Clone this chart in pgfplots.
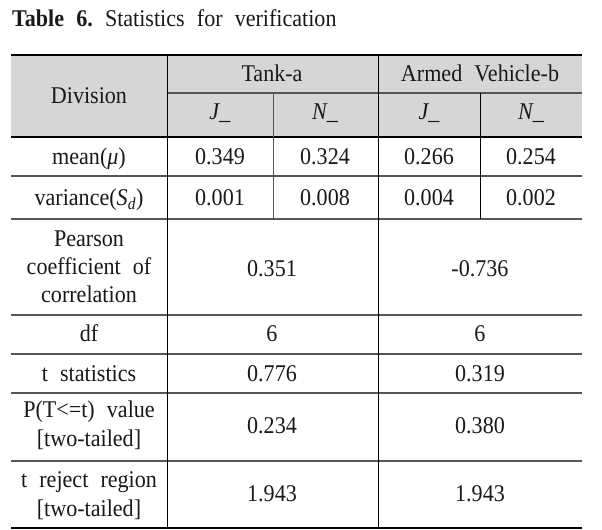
\documentclass[border=0pt]{standalone}
\usepackage{pgfplots}
\pgfplotsset{compat=1.18}
\usepackage{fontspec}
\setmainfont[WordSpace=2.2, FakeStretch=0.92]{Liberation Serif}
\definecolor{hdr}{RGB}{214,214,214}
\definecolor{txt}{RGB}{25,25,25}
\definecolor{rulec}{RGB}{85,85,85}
\tikzset{t/.style={anchor=base, inner sep=0pt, text=txt, font=\fontsize{24bp}{28bp}\selectfont}}
\begin{document}
\begin{tikzpicture}
\begin{axis}[hide axis, scale only axis, width=602bp, height=530bp,
  xmin=0, xmax=602, ymin=0, ymax=530, y dir=reverse, clip=false,
  every axis plot post/.append style={mark=none}]
% background and header shading
\addplot[fill=white, draw=none] coordinates {(0,0) (602,0) (602,530) (0,530)} -- cycle;
\addplot[fill=hdr, draw=none] coordinates {(11,55) (582,55) (582,137) (11,137)} -- cycle;
% horizontal rules
\addplot[black, line width=2.4bp] coordinates {(11,55) (582,55)};
\addplot[rulec, line width=1.1bp] coordinates {(167,93) (582,93)};
\addplot[black, line width=1.6bp] coordinates {(11,137) (582,137)};
\addplot[rulec, line width=1.1bp] coordinates {(11,176) (582,176)};
\addplot[rulec, line width=1.1bp] coordinates {(11,219) (582,219)};
\addplot[rulec, line width=1.1bp] coordinates {(11,315) (582,315)};
\addplot[rulec, line width=1.1bp] coordinates {(11,354) (582,354)};
\addplot[rulec, line width=1.1bp] coordinates {(11,393) (582,393)};
\addplot[rulec, line width=1.1bp] coordinates {(11,461) (582,461)};
\addplot[black, line width=2.4bp] coordinates {(11,528) (582,528)};
% vertical rules
\addplot[black, line width=1bp] coordinates {(167,55) (167,528)};
\addplot[black, line width=1bp] coordinates {(378,55) (378,528)};
\addplot[rulec, line width=1bp] coordinates {(273,93) (273,219)};
\addplot[black, line width=1bp] coordinates {(480,93) (480,219)};
% title
\node[t, anchor=base west] at (axis cs:12,27) {\textbf{Table 6.}\ Statistics for verification};
% header
\node[t] at (axis cs:89,104) {Division};
\node[t] at (axis cs:272,82) {Tank-a};
\node[t] at (axis cs:480,82) {Armed Vehicle-b};
\node[t] at (axis cs:220,120) {\textit{J\_}};
\node[t] at (axis cs:325,120) {\textit{N\_}};
\node[t] at (axis cs:429,120) {\textit{J\_}};
\node[t] at (axis cs:531,120) {\textit{N\_}};
% rows
\node[t] at (axis cs:89,165) {mean(\textit{μ})};
\node[t] at (axis cs:220,165) {0.349};
\node[t] at (axis cs:325,165) {0.324};
\node[t] at (axis cs:429,165) {0.266};
\node[t] at (axis cs:531,165) {0.254};
\node[t] at (axis cs:89,206) {variance(\textit{S}\textsubscript{\textit{d}})};
\node[t] at (axis cs:220,206) {0.001};
\node[t] at (axis cs:325,206) {0.008};
\node[t] at (axis cs:429,206) {0.004};
\node[t] at (axis cs:531,206) {0.002};
\node[t] at (axis cs:89,247) {Pearson};
\node[t] at (axis cs:89,275) {coefficient of};
\node[t] at (axis cs:89,303) {correlation};
\node[t] at (axis cs:272,277) {0.351};
\node[t] at (axis cs:480,277) {-0.736};
\node[t] at (axis cs:89,342) {df};
\node[t] at (axis cs:272,342) {6};
\node[t] at (axis cs:480,342) {6};
\node[t] at (axis cs:89,382) {t statistics};
\node[t] at (axis cs:272,382) {0.776};
\node[t] at (axis cs:480,382) {0.319};
\node[t] at (axis cs:89,418) {P(T<=t) value};
\node[t] at (axis cs:89,447) {[two-tailed]};
\node[t] at (axis cs:272,434) {0.234};
\node[t] at (axis cs:480,434) {0.380};
\node[t] at (axis cs:89,488) {t reject region};
\node[t] at (axis cs:89,517) {[two-tailed]};
\node[t] at (axis cs:272,502) {1.943};
\node[t] at (axis cs:480,502) {1.943};
\end{axis}
\end{tikzpicture}
\end{document}
